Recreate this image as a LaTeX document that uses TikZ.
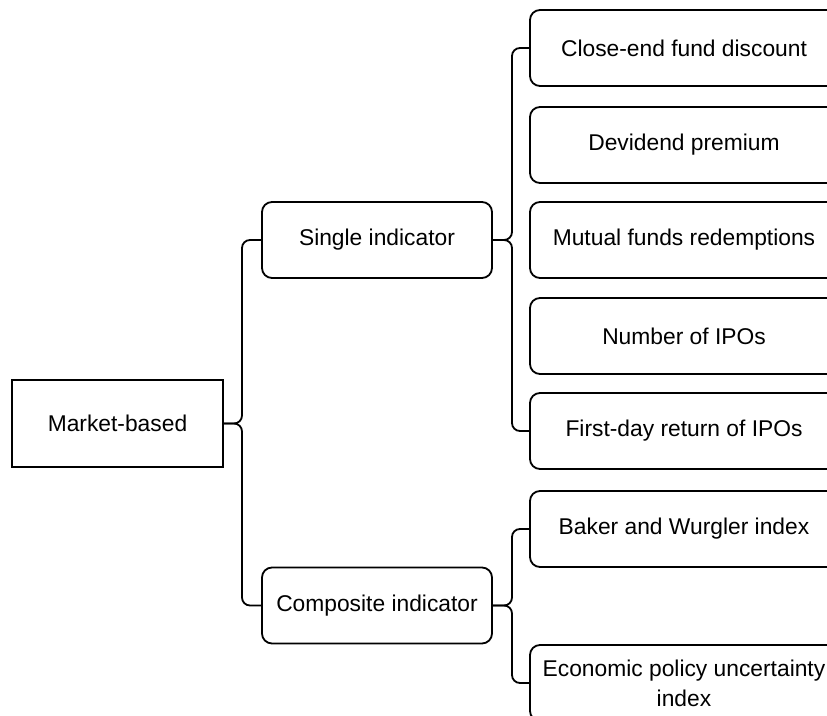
\documentclass[tikz,border=0pt]{standalone}
\usepackage{fontspec}
\setmainfont{Liberation Sans}
\begin{document}
\begin{tikzpicture}[x=0.5pt,y=-0.5pt,line width=0.9pt,
  every node/.style={font=\fontsize{11.4}{15}\selectfont},
  rootbox/.style={draw,minimum width=105.5pt,minimum height=43.5pt,inner sep=0pt},
  midbox/.style={draw,rounded corners=5pt,minimum width=115pt,minimum height=38pt,inner sep=0pt},
  leafbox/.style={draw,rounded corners=5pt,minimum width=154pt,minimum height=38pt,inner sep=0pt,align=center},
  brace/.style={rounded corners=4pt}]
\useasboundingbox (0,0) rectangle (827,716);
\clip (0,0) rectangle (827,716);

\node[rootbox] (market) at (117.5,423.5) {Market-based};
\node[midbox] (single) at (377,240) {Single indicator};
\node[midbox] (composite) at (377,605.5) {Composite indicator};

\foreach \n/\y/\t in {close/48/Close-end fund discount,
    devidend/145/Devidend premium,
    mutual/240/Mutual funds redemptions,
    ipos/336/Number of IPOs,
    firstday/431/First-day return of IPOs,
    baker/529/Baker and Wurgler index,
    econ/683/Economic policy uncertainty\\index} {
    \node[leafbox] (\n) at (684,\y) {\t};
}

\coordinate (mbar) at (242,423.5);
\coordinate (sbar) at (512,240);
\coordinate (cbar) at (512,605.5);

\draw[brace] (single.west) -- (single.west -| mbar) -- (mbar) -- (market.east);
\draw[brace] (composite.west) -- (composite.west -| mbar) -- (mbar) -- (market.east);

\draw[brace] (close.west) -- (close.west -| sbar) -- (sbar) -- (single.east);
\draw[brace] (firstday.west) -- (firstday.west -| sbar) -- (sbar) -- (single.east);

\draw[brace] (baker.west) -- (baker.west -| cbar) -- (cbar) -- (composite.east);
\draw[brace] (econ.west) -- (econ.west -| cbar) -- (cbar) -- (composite.east);
\end{tikzpicture}
\end{document}
